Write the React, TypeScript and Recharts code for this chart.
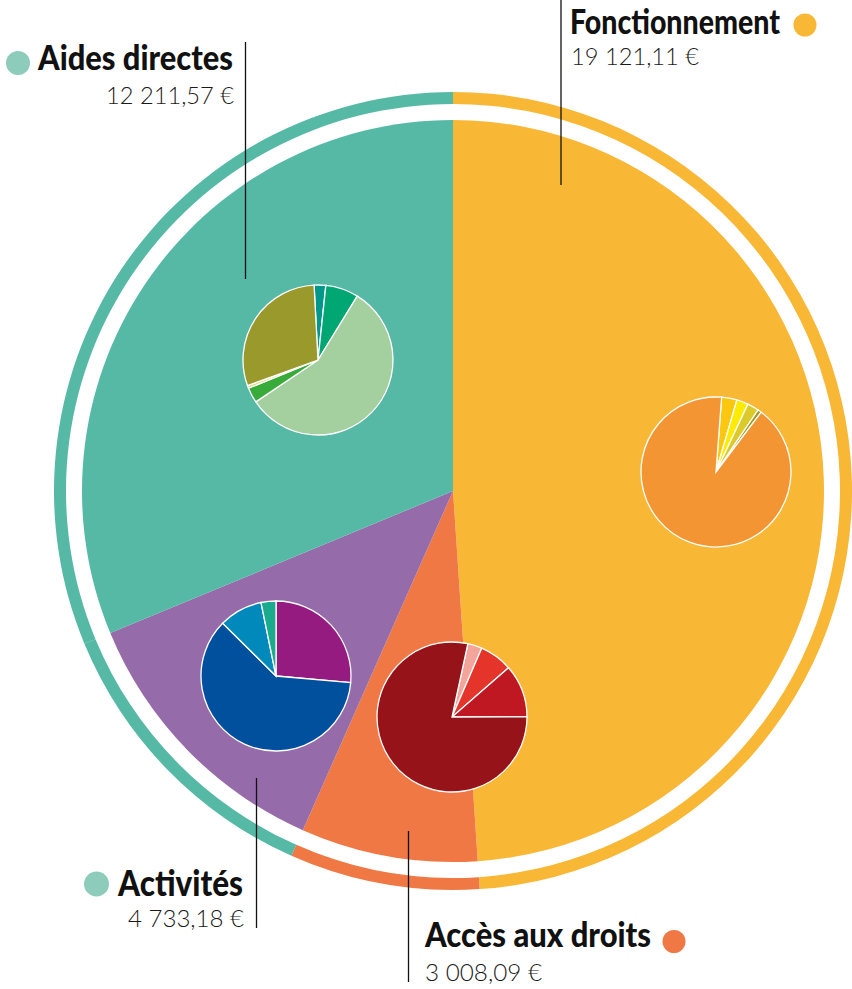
import React from "react";
import { PieChart, Pie, Cell } from "recharts";

// Main budget categories (clockwise from top)
const categories = ["Fonctionnement", "Accès aux droits", "Activités", "Aides directes"];
const amounts = [19121.11, 3008.09, 4733.18, 12211.57];
const amountLabels = ["19 121,11 €", "3 008,09 €", "4 733,18 €", "12 211,57 €"];
const mainColors = ["#f9b736", "#ef7844", "#956baa", "#55b9a5"];
const ringColors = ["#f9b736", "#ef7844", "#55b9a5", "#55b9a5"];
const dotColors = ["#f9b736", "#ef7844", "#8dcbbb", "#8dcbbb"];

// Sub-breakdowns (shares in %)
const foncSub = [3.3, 2.5, 2.5, 0.8, 90.9];
const foncSubColors = ["#fcc70f", "#ffeb00", "#dcca2a", "#a39a1c", "#f39533"];

const accesSub = [3.1, 7.1, 11.4, 78.4];
const accesSubColors = ["#f4a59b", "#e5352b", "#bf1823", "#96131a"];

const activSub = [26.4, 61.0, 9.4, 3.2];
const activSubColors = ["#951b80", "#00509d", "#0189bc", "#1aab8f"];

const aidesSub = [2.5, 7.1, 56.8, 3.3, 0.6, 29.7];
const aidesSubColors = ["#00988a", "#00a772", "#a4cf9e", "#38ab3b", "#d6dc72", "#99992c"];

const mainData = categories.map((name, i) => ({ name, value: amounts[i] }));
const toData = (arr: number[]) => arr.map((v, i) => ({ name: `p${i + 1}`, value: v }));

const TITLE_FONT = "Lato, 'Noto Sans', sans-serif";

const Labels = () => (
  <g>
    {/* leader lines */}
    <line x1={245.5} y1={42} x2={245.5} y2={279} stroke="#111" strokeWidth={1.3} />
    <line x1={561} y1={0} x2={561} y2={185} stroke="#111" strokeWidth={1.3} />
    <line x1={256.5} y1={778} x2={256.5} y2={928} stroke="#111" strokeWidth={1.3} />
    <line x1={408.5} y1={831} x2={408.5} y2={982} stroke="#111" strokeWidth={1.3} />

    {/* Aides directes */}
    <circle cx={18} cy={63} r={12} fill={dotColors[3]} />
    <text x={38} y={70} fontFamily={TITLE_FONT} fontWeight={900} fontSize={35} fill="#111"
      textLength={195} lengthAdjust="spacingAndGlyphs">{categories[3]}</text>
    <text x={234} y={104} textAnchor="end" fontFamily={TITLE_FONT} fontWeight={300} fontSize={23} fill="#1a1a1a"
      textLength={128} lengthAdjust="spacingAndGlyphs">{amountLabels[3]}</text>

    {/* Fonctionnement */}
    <circle cx={805} cy={25} r={11.5} fill={dotColors[0]} />
    <text x={570} y={34} fontFamily={TITLE_FONT} fontWeight={900} fontSize={34} fill="#111"
      textLength={210} lengthAdjust="spacingAndGlyphs">{categories[0]}</text>
    <text x={571} y={65} fontFamily={TITLE_FONT} fontWeight={300} fontSize={23} fill="#1a1a1a"
      textLength={128} lengthAdjust="spacingAndGlyphs">{amountLabels[0]}</text>

    {/* Activités */}
    <circle cx={96.5} cy={884} r={12.5} fill={dotColors[2]} />
    <text x={118} y={896} fontFamily={TITLE_FONT} fontWeight={900} fontSize={36} fill="#111"
      textLength={125} lengthAdjust="spacingAndGlyphs">{categories[2]}</text>
    <text x={244} y={927} textAnchor="end" fontFamily={TITLE_FONT} fontWeight={300} fontSize={23} fill="#1a1a1a"
      textLength={116} lengthAdjust="spacingAndGlyphs">{amountLabels[2]}</text>

    {/* Accès aux droits */}
    <circle cx={674} cy={941.5} r={11.5} fill={dotColors[1]} />
    <text x={425} y={947} fontFamily={TITLE_FONT} fontWeight={900} fontSize={35} fill="#111"
      textLength={226} lengthAdjust="spacingAndGlyphs">{categories[1]}</text>
    <text x={425} y={981} fontFamily={TITLE_FONT} fontWeight={300} fontSize={23} fill="#1a1a1a"
      textLength={117} lengthAdjust="spacingAndGlyphs">{amountLabels[1]}</text>
  </g>
);

const annotate = (props: any) => (props.index === 0 ? <Labels key="labels" /> : <g key={`e${props.index}`} />);

export default function App() {
  const sub = (values: number[], colors: string[], cx: number, cy: number, start: number, key: string, withLabels = false) => (
    <Pie
      key={key}
      data={toData(values)}
      dataKey="value"
      cx={cx}
      cy={cy}
      innerRadius={0}
      outerRadius={75}
      startAngle={start}
      endAngle={start - 360}
      stroke="#ffffff"
      strokeWidth={1.3}
      isAnimationActive={false}
      label={withLabels ? annotate : false}
      labelLine={false}
    >
      {values.map((_, i) => (
        <Cell key={i} fill={colors[i]} />
      ))}
    </Pie>
  );

  return (
    <div style={{ position: "absolute", left: 0, top: 0, width: 852, height: 989, background: "#fff" }}>
      <PieChart width={852} height={989} margin={{ top: 0, right: 0, bottom: 0, left: 0 }}>
        <Pie
          data={mainData}
          dataKey="value"
          cx={453}
          cy={491}
          innerRadius={387}
          outerRadius={399}
          startAngle={90}
          endAngle={-270}
          stroke="none"
          isAnimationActive={false}
        >
          {mainData.map((_, i) => (
            <Cell key={i} fill={ringColors[i]} />
          ))}
        </Pie>
        <Pie
          data={mainData}
          dataKey="value"
          cx={453}
          cy={491}
          innerRadius={0}
          outerRadius={371}
          startAngle={90}
          endAngle={-270}
          stroke="none"
          isAnimationActive={false}
        >
          {mainData.map((_, i) => (
            <Cell key={i} fill={mainColors[i]} />
          ))}
        </Pie>
        {sub(foncSub, foncSubColors, 716, 472, 85.7, "fonc")}
        {sub(accesSub, accesSubColors, 452, 717, 77.8, "acces")}
        {sub(activSub, activSubColors, 276, 676, 90, "activ")}
        {sub(aidesSub, aidesSubColors, 318, 360, 93, "aides", true)}
      </PieChart>
    </div>
  );
}
